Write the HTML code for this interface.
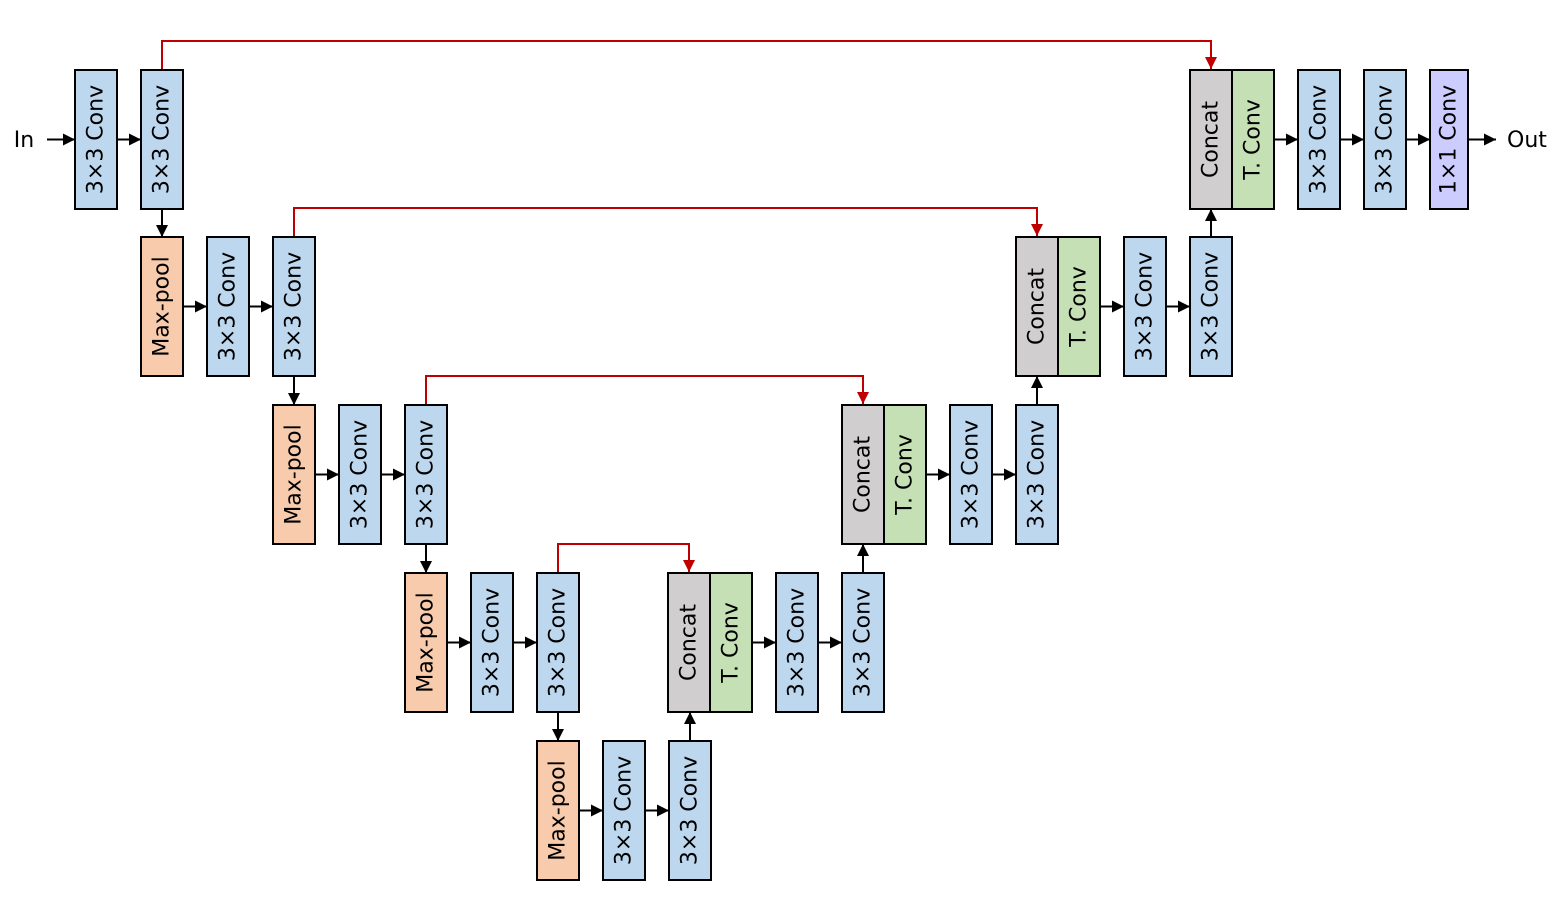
<!DOCTYPE html>
<html><head><meta charset="utf-8"><style>html,body{margin:0;padding:0;background:#fff}svg{display:block}</style></head><body>
<svg width="1561" height="902" viewBox="0 0 1561 902" xmlns="http://www.w3.org/2000/svg" font-family="'DejaVu Sans','Liberation Sans',sans-serif">
<defs>
<marker id="a" viewBox="0 0 10 10" refX="10" refY="5" markerWidth="12" markerHeight="12" markerUnits="userSpaceOnUse" orient="auto"><path d="M0,0L10,5L0,10z" fill="#000"/></marker>
<marker id="r" viewBox="0 0 10 10" refX="10" refY="5" markerWidth="12" markerHeight="12" markerUnits="userSpaceOnUse" orient="auto"><path d="M0,0L10,5L0,10z" fill="#c00000"/></marker>
</defs>
<g fill="none" stroke="#c00000" stroke-width="2" marker-end="url(#r)">
<path d="M162,70V41H1211V69"/>
<path d="M294,237V208H1037V236"/>
<path d="M426,405V376H863V404"/>
<path d="M558,573V544H689V572"/>
</g>
<g stroke="#000" stroke-width="2" marker-end="url(#a)">
<line x1="47" y1="139.5" x2="75" y2="139.5"/><line x1="117" y1="139.5" x2="141" y2="139.5"/>
<line x1="1274" y1="139.5" x2="1298" y2="139.5"/><line x1="1340" y1="139.5" x2="1364" y2="139.5"/>
<line x1="1406" y1="139.5" x2="1430" y2="139.5"/><line x1="1468" y1="139.5" x2="1496" y2="139.5"/>
<line x1="183" y1="306.5" x2="207" y2="306.5"/><line x1="249" y1="306.5" x2="273" y2="306.5"/>
<line x1="1100" y1="306.5" x2="1124" y2="306.5"/><line x1="1166" y1="306.5" x2="1190" y2="306.5"/>
<line x1="315" y1="474.5" x2="339" y2="474.5"/><line x1="381" y1="474.5" x2="405" y2="474.5"/>
<line x1="926" y1="474.5" x2="950" y2="474.5"/><line x1="992" y1="474.5" x2="1016" y2="474.5"/>
<line x1="447" y1="642.5" x2="471" y2="642.5"/><line x1="513" y1="642.5" x2="537" y2="642.5"/>
<line x1="752" y1="642.5" x2="776" y2="642.5"/><line x1="818" y1="642.5" x2="842" y2="642.5"/>
<line x1="579" y1="810.5" x2="603" y2="810.5"/><line x1="645" y1="810.5" x2="669" y2="810.5"/>
<line x1="162" y1="209" x2="162" y2="237"/><line x1="294" y1="376" x2="294" y2="405"/>
<line x1="426" y1="544" x2="426" y2="573"/><line x1="558" y1="712" x2="558" y2="741"/>
<line x1="690" y1="741" x2="690" y2="712"/><line x1="863" y1="573" x2="863" y2="544"/>
<line x1="1037" y1="405" x2="1037" y2="376"/><line x1="1211" y1="237" x2="1211" y2="209"/>
</g>
<g stroke="#000" stroke-width="2">
<rect x="75" y="70" width="42" height="139" fill="#bdd7ee"/>
<rect x="141" y="70" width="42" height="139" fill="#bdd7ee"/>
<rect x="1190" y="70" width="42" height="139" fill="#d0cece"/>
<rect x="1232" y="70" width="42" height="139" fill="#c5e0b4"/>
<rect x="1298" y="70" width="42" height="139" fill="#bdd7ee"/>
<rect x="1364" y="70" width="42" height="139" fill="#bdd7ee"/>
<rect x="1430" y="70" width="38" height="139" fill="#ccccff"/>
<rect x="141" y="237" width="42" height="139" fill="#f8cbad"/>
<rect x="207" y="237" width="42" height="139" fill="#bdd7ee"/>
<rect x="273" y="237" width="42" height="139" fill="#bdd7ee"/>
<rect x="1016" y="237" width="42" height="139" fill="#d0cece"/>
<rect x="1058" y="237" width="42" height="139" fill="#c5e0b4"/>
<rect x="1124" y="237" width="42" height="139" fill="#bdd7ee"/>
<rect x="1190" y="237" width="42" height="139" fill="#bdd7ee"/>
<rect x="273" y="405" width="42" height="139" fill="#f8cbad"/>
<rect x="339" y="405" width="42" height="139" fill="#bdd7ee"/>
<rect x="405" y="405" width="42" height="139" fill="#bdd7ee"/>
<rect x="842" y="405" width="42" height="139" fill="#d0cece"/>
<rect x="884" y="405" width="42" height="139" fill="#c5e0b4"/>
<rect x="950" y="405" width="42" height="139" fill="#bdd7ee"/>
<rect x="1016" y="405" width="42" height="139" fill="#bdd7ee"/>
<rect x="405" y="573" width="42" height="139" fill="#f8cbad"/>
<rect x="471" y="573" width="42" height="139" fill="#bdd7ee"/>
<rect x="537" y="573" width="42" height="139" fill="#bdd7ee"/>
<rect x="668" y="573" width="42" height="139" fill="#d0cece"/>
<rect x="710" y="573" width="42" height="139" fill="#c5e0b4"/>
<rect x="776" y="573" width="42" height="139" fill="#bdd7ee"/>
<rect x="842" y="573" width="42" height="139" fill="#bdd7ee"/>
<rect x="537" y="741" width="42" height="139" fill="#f8cbad"/>
<rect x="603" y="741" width="42" height="139" fill="#bdd7ee"/>
<rect x="669" y="741" width="42" height="139" fill="#bdd7ee"/>
</g>
<g font-size="22" fill="#000" text-anchor="middle">
<text x="24" y="147">In</text>
<text x="1527" y="147">Out</text>
</g>
<g font-size="22" fill="#000" text-anchor="middle" dominant-baseline="central">
<text transform="translate(96,139.5) rotate(-90)">3×3 Conv</text>
<text transform="translate(162,139.5) rotate(-90)">3×3 Conv</text>
<text transform="translate(1211,139.5) rotate(-90)">Concat</text>
<text transform="translate(1253,139.5) rotate(-90)">T. Conv</text>
<text transform="translate(1319,139.5) rotate(-90)">3×3 Conv</text>
<text transform="translate(1385,139.5) rotate(-90)">3×3 Conv</text>
<text transform="translate(1449,139.5) rotate(-90)">1×1 Conv</text>
<text transform="translate(162,306.5) rotate(-90)">Max-pool</text>
<text transform="translate(228,306.5) rotate(-90)">3×3 Conv</text>
<text transform="translate(294,306.5) rotate(-90)">3×3 Conv</text>
<text transform="translate(1037,306.5) rotate(-90)">Concat</text>
<text transform="translate(1079,306.5) rotate(-90)">T. Conv</text>
<text transform="translate(1145,306.5) rotate(-90)">3×3 Conv</text>
<text transform="translate(1211,306.5) rotate(-90)">3×3 Conv</text>
<text transform="translate(294,474.5) rotate(-90)">Max-pool</text>
<text transform="translate(360,474.5) rotate(-90)">3×3 Conv</text>
<text transform="translate(426,474.5) rotate(-90)">3×3 Conv</text>
<text transform="translate(863,474.5) rotate(-90)">Concat</text>
<text transform="translate(905,474.5) rotate(-90)">T. Conv</text>
<text transform="translate(971,474.5) rotate(-90)">3×3 Conv</text>
<text transform="translate(1037,474.5) rotate(-90)">3×3 Conv</text>
<text transform="translate(426,642.5) rotate(-90)">Max-pool</text>
<text transform="translate(492,642.5) rotate(-90)">3×3 Conv</text>
<text transform="translate(558,642.5) rotate(-90)">3×3 Conv</text>
<text transform="translate(689,642.5) rotate(-90)">Concat</text>
<text transform="translate(731,642.5) rotate(-90)">T. Conv</text>
<text transform="translate(797,642.5) rotate(-90)">3×3 Conv</text>
<text transform="translate(863,642.5) rotate(-90)">3×3 Conv</text>
<text transform="translate(558,810.5) rotate(-90)">Max-pool</text>
<text transform="translate(624,810.5) rotate(-90)">3×3 Conv</text>
<text transform="translate(690,810.5) rotate(-90)">3×3 Conv</text>
</g>
</svg>
</body></html>
